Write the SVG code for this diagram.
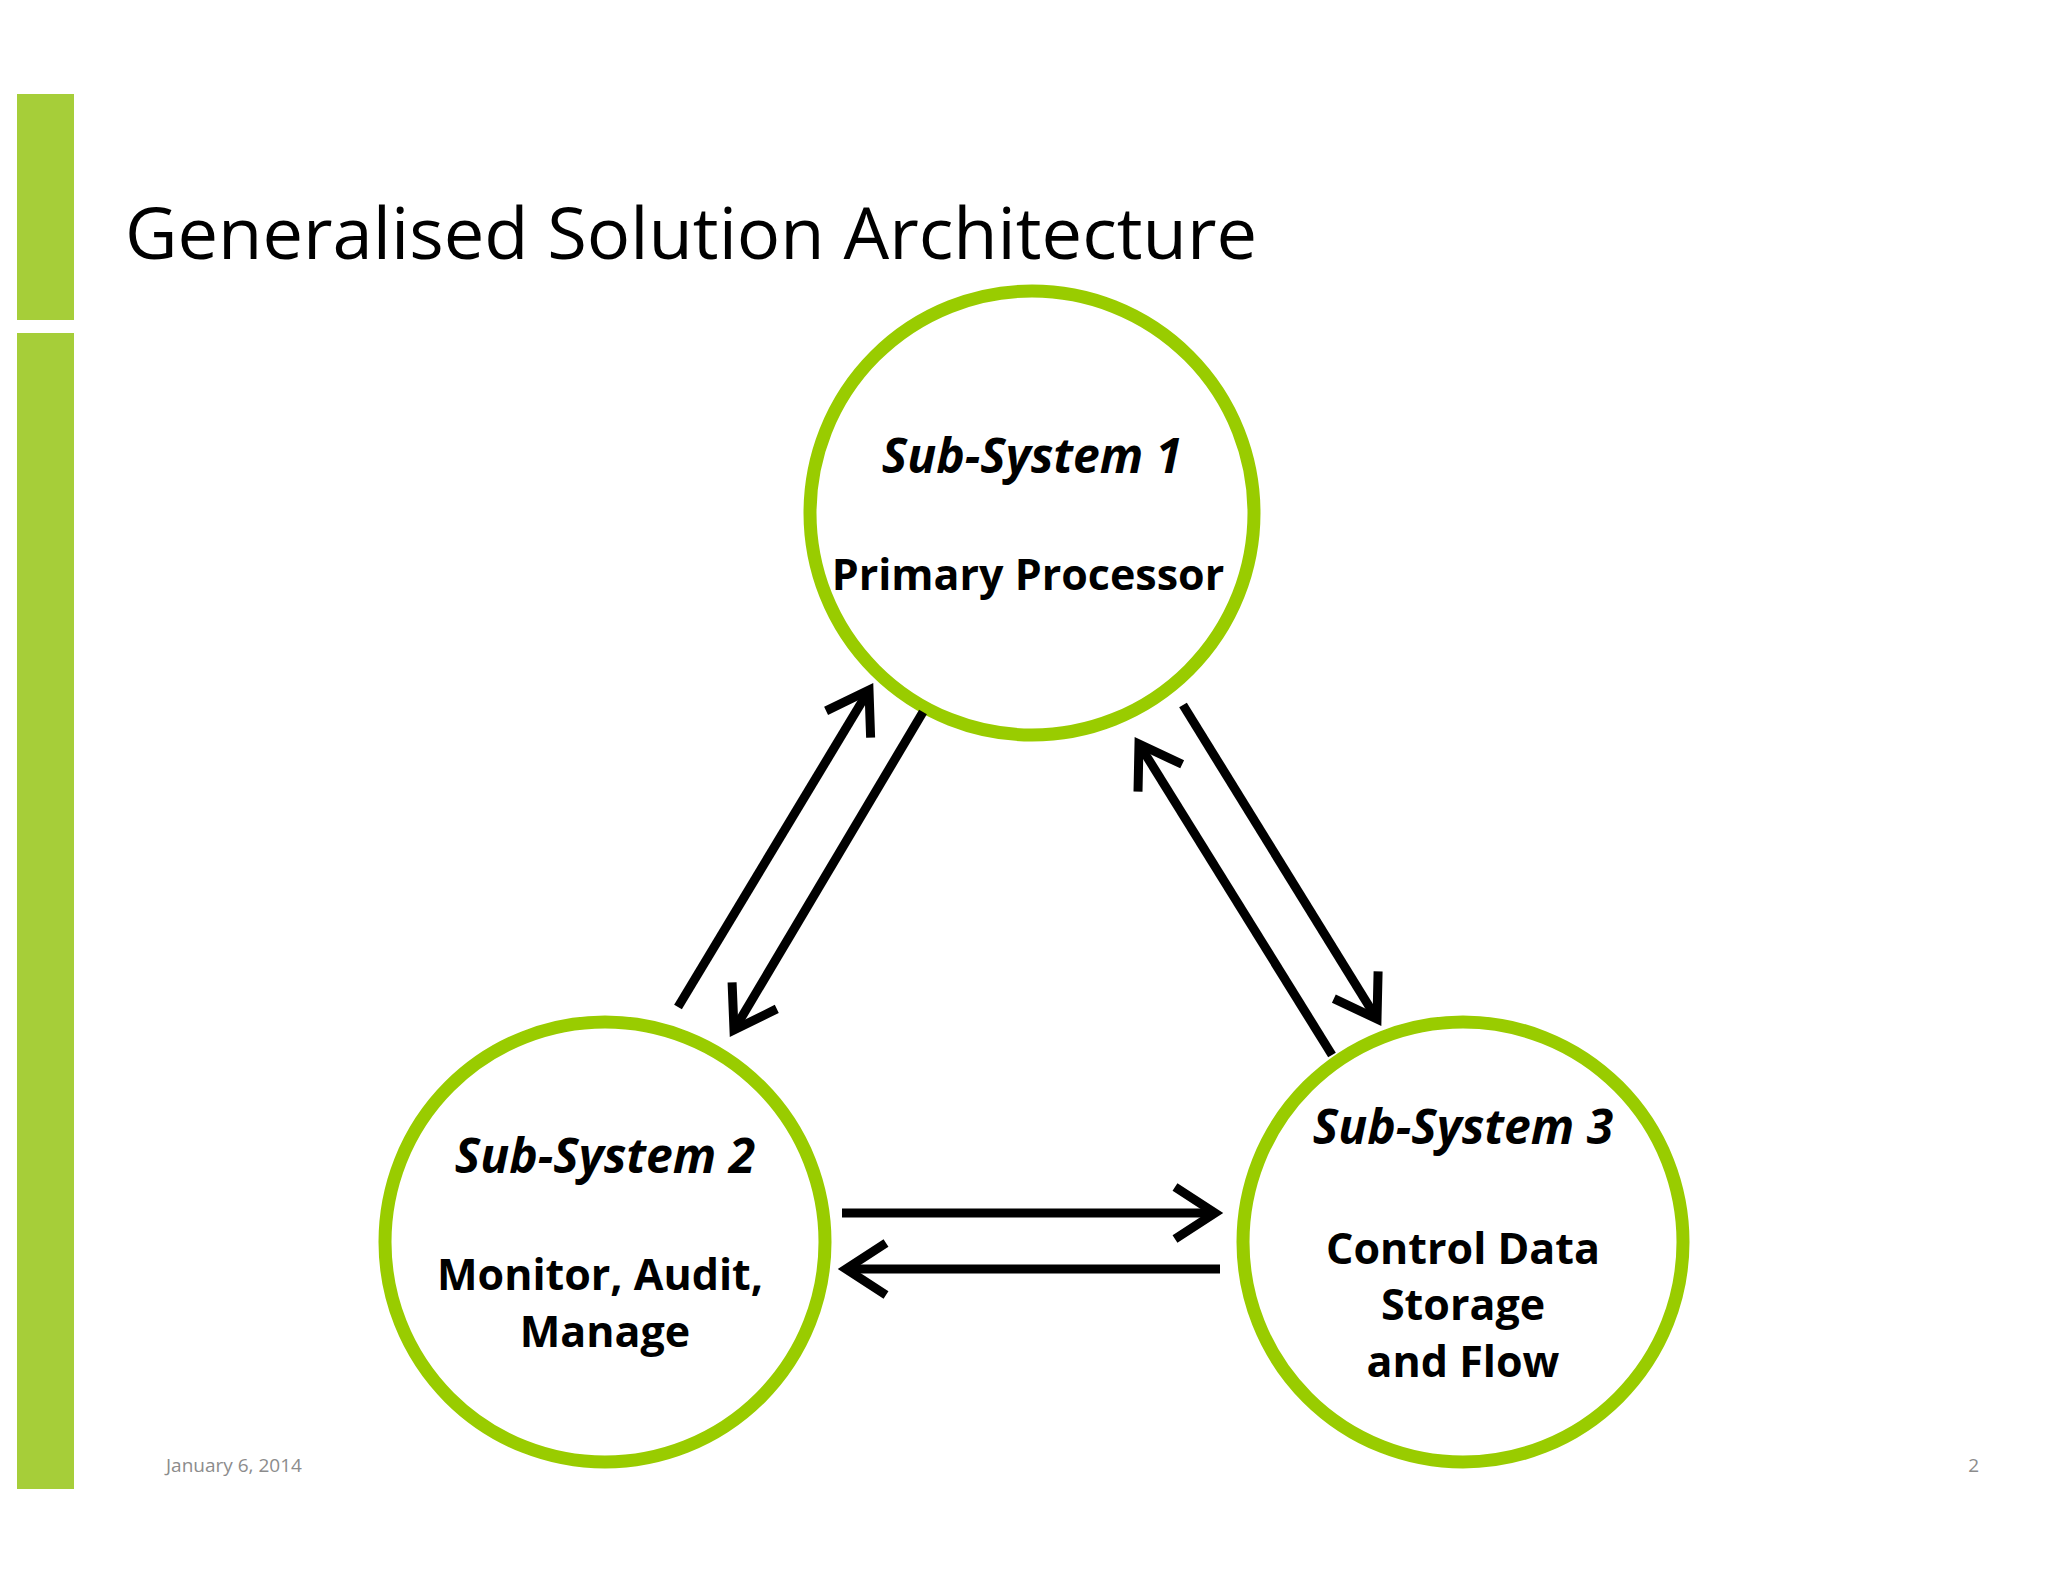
<svg xmlns="http://www.w3.org/2000/svg" width="2048" height="1582" viewBox="0 0 2048 1582">
<style>
.bar{fill:#a6ce39}
.node{fill:#fff;stroke:#99cc00;stroke-width:13}
.h{font-family:"Open Sans","Liberation Sans",sans-serif;font-weight:bold;font-style:italic;font-size:48px;text-anchor:middle;fill:#000}
.t{font-family:"Open Sans","Liberation Sans",sans-serif;font-weight:bold;font-size:43px;text-anchor:middle;fill:#000}
.c{fill:none;stroke:#000;stroke-width:9}
</style>
<defs>
<marker id="ah" markerUnits="userSpaceOnUse" markerWidth="80" markerHeight="80" refX="60" refY="40" orient="auto">
<path d="M20,14 L60,40 L20,66" fill="none" stroke="#000" stroke-width="9"/>
</marker>
</defs>
<rect width="2048" height="1582" fill="#fff"/>
<rect class="bar" x="17" y="94" width="57" height="226"/>
<rect class="bar" x="17" y="333" width="57" height="1156"/>
<text x="125" y="259" font-family="Open Sans, Liberation Sans, sans-serif" font-size="72" textLength="1132" lengthAdjust="spacingAndGlyphs" fill="#000">Generalised Solution Architecture</text>
<g id="n1"><circle class="node" cx="1032" cy="513" r="222"/><text class="h" x="1032" y="473">Sub-System 1</text><text class="t" x="1028" y="590">Primary Processor</text></g>
<g id="n2"><circle class="node" cx="605" cy="1242" r="220"/><text class="h" x="605" y="1173">Sub-System 2</text><text class="t" x="600" y="1290">Monitor, Audit,</text><text class="t" x="605" y="1347">Manage</text></g>
<g id="n3"><circle class="node" cx="1463" cy="1242" r="220"/><text class="h" x="1463" y="1144">Sub-System 3</text><text class="t" x="1463" y="1264">Control Data</text><text class="t" x="1463" y="1320">Storage</text><text class="t" x="1463" y="1377">and Flow</text></g>
<g id="connectors">
<line class="c" x1="678" y1="1007" x2="869" y2="690" marker-end="url(#ah)"/>
<line class="c" x1="923" y1="712" x2="734" y2="1030" marker-end="url(#ah)"/>
<line class="c" x1="1183" y1="705" x2="1377" y2="1019" marker-end="url(#ah)"/>
<line class="c" x1="1332" y1="1055" x2="1139" y2="744" marker-end="url(#ah)"/>
<line class="c" x1="842" y1="1213" x2="1215" y2="1213" marker-end="url(#ah)"/>
<line class="c" x1="1220" y1="1269" x2="846" y2="1269" marker-end="url(#ah)"/>
</g>
<text x="166" y="1472" font-family="Open Sans, Liberation Sans, sans-serif" font-size="19" fill="#8c8c8c">January 6, 2014</text>
<text x="1979" y="1472" font-family="Open Sans, Liberation Sans, sans-serif" font-size="19" fill="#8c8c8c" text-anchor="end">2</text>
</svg>
